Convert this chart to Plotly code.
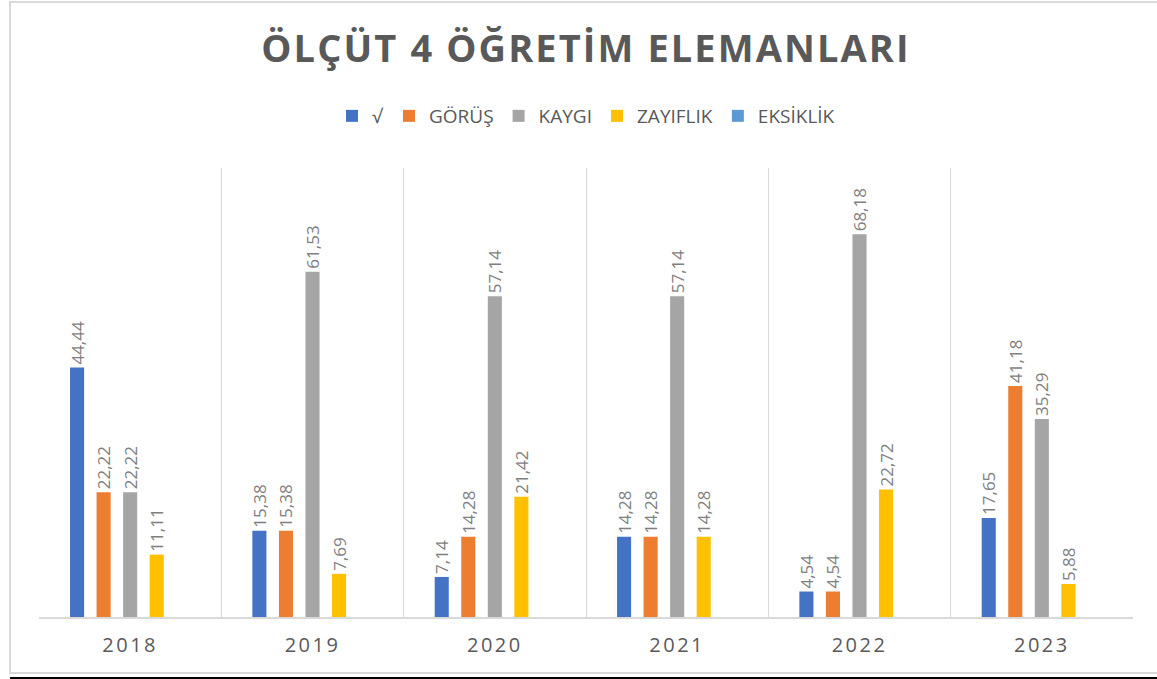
import plotly.graph_objects as go

years = ["2018", "2019", "2020", "2021", "2022", "2023"]
series_names = ["√", "GÖRÜŞ", "KAYGI", "ZAYIFLIK", "EKSİKLİK"]
v_check = [44.44, 15.38, 7.14, 14.28, 4.54, 17.65]
v_gorus = [22.22, 15.38, 14.28, 14.28, 4.54, 41.18]
v_kaygi = [22.22, 61.53, 57.14, 57.14, 68.18, 35.29]
v_zayif = [11.11, 7.69, 21.42, 14.28, 22.72, 5.88]
v_eksik = [None, None, None, None, None, None]
colors = ["#4472C4", "#ED7D31", "#A5A5A5", "#FFC000", "#5B9BD5"]

all_values = [v_check, v_gorus, v_kaygi, v_zayif, v_eksik]

def fmt(v):
    return "" if v is None else f"{v:.2f}".replace(".", ",")

FONT = "Open Sans, sans-serif"

fig = go.Figure()
for name, vals, col in zip(series_names, all_values, colors):
    fig.add_trace(go.Bar(
        x=years, y=vals, name=name, marker_color=col, marker_line_width=0,
        text=[fmt(v) for v in vals], textposition="outside", textangle=-90,
        textfont=dict(family=FONT, size=17, color="#7f7f7f"),
        cliponaxis=False,
    ))

W, H = 1157, 679
L, R, T, B = 39, 1157 - 1133, 168, 679 - 617
pw, ph = W - L - R, H - T - B

def px(x):
    return (x - L) / pw

def py(y):
    return (H - B - y) / ph

fig.update_layout(
    width=W, height=H,
    margin=dict(l=L, r=R, t=T, b=B, autoexpand=False),
    paper_bgcolor="white", plot_bgcolor="white",
    barmode="group", bargap=0.272, bargroupgap=0.47,
    uniformtext=dict(minsize=17, mode="show"),
    title=dict(text="<b>ÖLÇÜT 4 ÖĞRETİM ELEMANLARI</b>", xref="paper", x=0.5,
               xanchor="center", y=1 - 49 / H, yanchor="middle",
               font=dict(family=FONT, size=38, color="#595959")),
    legend=dict(orientation="h", x=0.5, xanchor="center", y=py(116), yanchor="middle",
                font=dict(family=FONT, size=19, color="#595959"),
                itemwidth=30, traceorder="normal"),
    xaxis=dict(tickson="boundaries", showgrid=True, gridcolor="#d9d9d9", gridwidth=1,
               showline=True, linecolor="#d9d9d9", linewidth=1.5, ticks="",
               tickfont=dict(family=FONT, size=20, color="#595959"),
               ticklabelstandoff=9),
    yaxis=dict(range=[0, 80], showgrid=False, showticklabels=False, zeroline=False,
               showline=False),
    shapes=[
        dict(type="rect", xref="paper", yref="paper", x0=px(10), x1=px(1170),
             y0=py(673), y1=py(2), line=dict(color="#d9d9d9", width=2),
             fillcolor="rgba(0,0,0,0)", layer="below"),
        dict(type="line", xref="paper", yref="paper", x0=px(10), x1=px(1160),
             y0=py(678), y1=py(678), line=dict(color="#000000", width=2)),
    ],
)

post = """
document.body.style.margin = '0';
var gd = document.getElementById('{plot_id}');
function spacing() {
  gd.querySelectorAll('.gtitle').forEach(function(e){ e.style.letterSpacing = '2.1px'; });
  gd.querySelectorAll('.xtick text').forEach(function(e){ e.style.letterSpacing = '2.5px'; });
}
spacing();
gd.on('plotly_afterplot', spacing);
"""

fig.write_html("out.html", post_script=post, config={"displayModeBar": False})
